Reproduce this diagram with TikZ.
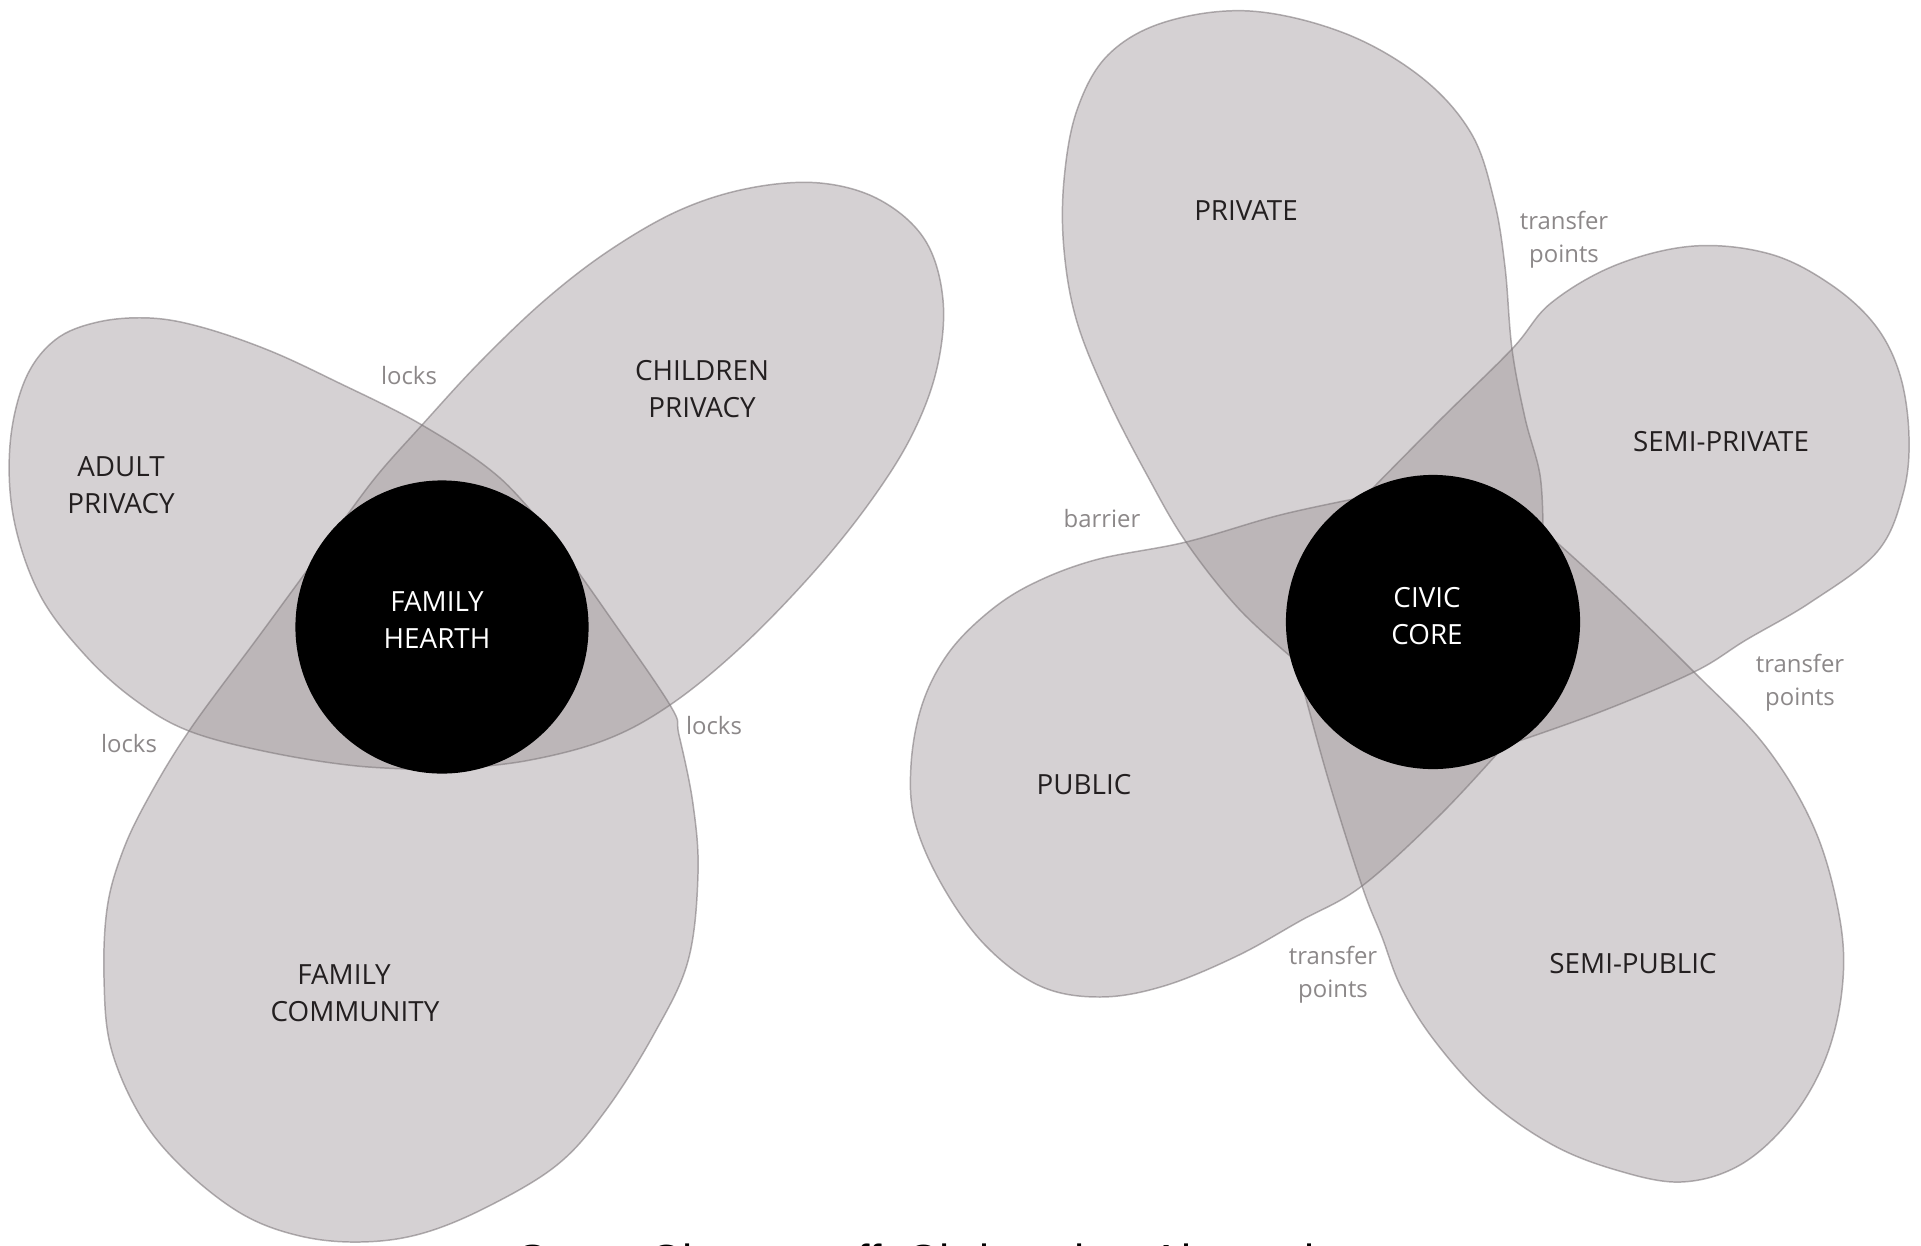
\documentclass[tikz,border=0pt]{standalone}
\usepackage{fontspec}
\setmainfont{Open Sans}
\newfontfamily\capfont{Liberation Sans}

\definecolor{petal}{RGB}{152,142,145}
\definecolor{rimc}{RGB}{128,122,125}
\definecolor{ink}{RGB}{35,31,32}
\definecolor{note}{RGB}{140,136,137}

\tikzset{
  zone/.style={fill=petal, fill opacity=0.4},
  rim/.style={draw=rimc, draw opacity=0.6, line width=0.42pt, line join=round},
  core/.style={fill=black},
  zonelabel/.style={font={\fontsize{7.9}{10.5}\selectfont}, text=ink, align=center, inner sep=0pt},
  notelabel/.style={font={\fontsize{6.8}{9.4}\selectfont}, text=note, align=center, inner sep=0pt},
}

\begin{document}
\begin{tikzpicture}[x=0.01cm, y=-0.01cm]
\clip (0,0) rectangle (1921,1245);
\fill[white] (0,0) rectangle (1921,1245);

% ---------- family diagram: key points ----------
\coordinate (hc)  at (442,627);   % hearth centre
\coordinate (lkT) at (422,425);   % upper lock
\coordinate (lkL) at (189,731);   % left lock
\coordinate (lkR) at (670,705);   % right lock
\coordinate (tL)  at (333,535);   % petal edges meeting the hearth
\coordinate (tR)  at (559,545);
\coordinate (tB)  at (442,770);

% ---------- civic diagram: key points ----------
\coordinate (cc)  at (1433,622);  % core centre
\coordinate (xB)  at (1186,542);  % barrier
\coordinate (xT)  at (1512,349);  % transfer points, top
\coordinate (xR)  at (1694,672);  % transfer points, right
\coordinate (xD)  at (1362,886);  % transfer points, bottom
\coordinate (tTL) at (1364,497);
\coordinate (tTR) at (1543,530);
\coordinate (tBR) at (1504,746);
\coordinate (tBL) at (1296,661);

% ---------- petal outlines ----------
\def\adultpath{plot[smooth, tension=0.6] coordinates {(tR) (500,478) (lkT) (335,381) (268,350) (201,327) (150,318) (98,322) (55,340) (25,380) (10,445) (14,520) (40,595) (85,655) (135,700) (lkL) (268,752) (357,766) (tB)} -- (hc) -- cycle}
\def\childpath{plot[smooth, tension=0.6] coordinates {(tB) (525,761) (605,740) (lkR) (740,648) (812,574) (870,502) (912,435) (937,368) (943,300) (925,240) (880,200) (820,183) (750,188) (680,210) (610,250) (545,300) (480,362) (lkT) (375,478) (tL)} -- (hc) -- cycle}
\def\commpath{plot[smooth, tension=0.6] coordinates {(tL) (262,632) (lkL) (145,804) (121,856) (107,909) (104,978) (111,1048) (141,1117) (184,1169) (242,1214) (300,1236) (360,1242) (420,1234) (485,1208) (557,1165) (606,1110) (654,1034) (688,961) (698,874) (693,804) (679,735) (lkR) (605,610) (tR)} -- (hc) -- cycle}
\def\privpath{plot[smooth, tension=0.6] coordinates {(tTR) (1540,475) (1525,418) (xT) (1505,267) (1494,200) (1471,133) (1421,77) (1344,33) (1250,11) (1165,22) (1108,55) (1077,110) (1064,180) (1064,250) (1077,322) (1108,399) (1147,475) (xB) (1239,609) (tBL)} -- (cc) -- cycle}
\def\semiprivpath{plot[smooth, tension=0.6] coordinates {(tBR) (1600,712) (xR) (1746,640) (1811,602) (1877,552) (1903,494) (1909,437) (1900,375) (1875,325) (1830,284) (1770,254) (1694,246) (1616,265) (1551,303) (xT) (1440,420) (tTL)} -- (cc) -- cycle}
\def\semipubpath{plot[smooth, tension=0.6] coordinates {(tBL) (1327,775) (xD) (1382,937) (1401,987) (1434,1040) (1486,1098) (1551,1144) (1616,1170) (1681,1182) (1740,1165) (1790,1120) (1825,1060) (1842,990) (1840,920) (1815,830) (1766,747) (xR) (1620,600) (tTR)} -- (cc) -- cycle}
\def\pubpath{plot[smooth, tension=0.6] coordinates {(tBR) (1440,815) (xD) (1300,921) (1237,956) (1164,986) (1100,997) (1040,986) (985,945) (942,885) (915,822) (911,765) (922,705) (947,655) (985,615) (1030,585) (1095,560) (xB) (1280,515) (tTL)} -- (cc) -- cycle}

% translucent fills (overlaps darken)
\fill[zone] \adultpath;
\fill[zone] \childpath;
\fill[zone] \commpath;
\fill[zone] \privpath;
\fill[zone] \semiprivpath;
\fill[zone] \semipubpath;
\fill[zone] \pubpath;

% thin outlines
\draw[rim] \adultpath;
\draw[rim] \childpath;
\draw[rim] \commpath;
\draw[rim] \privpath;
\draw[rim] \semiprivpath;
\draw[rim] \semipubpath;
\draw[rim] \pubpath;

% black cores
\fill[core] (hc) circle[radius=1.465cm];
\fill[core] (cc) circle[radius=1.47cm];

% ---------- family labels ----------
\node[zonelabel] (adult) at (121,485) {ADULT\\PRIVACY};
\node[zonelabel] (children) at (702,389) {CHILDREN\\PRIVACY};
\node[zonelabel, text=white] (hearth) at (437,620) {FAMILY\\HEARTH};
\node[zonelabel] (community) at (355,993) {FAMILY\hspace*{0.22cm}\\COMMUNITY};
\node[notelabel] (lockT) at (409,376) {locks};
\node[notelabel] (lockL) at (129,744) {locks};
\node[notelabel] (lockR) at (714,726) {locks};

% ---------- civic labels ----------
\node[zonelabel] (private) at (1246,211) {PRIVATE};
\node[zonelabel] (semiprivate) at (1721,442) {SEMI-PRIVATE};
\node[zonelabel, text=white] (civic) at (1427,616) {CIVIC\\CORE};
\node[zonelabel] (public) at (1084,785) {PUBLIC};
\node[zonelabel] (semipublic) at (1633,964) {SEMI-PUBLIC};
\node[notelabel] (trT) at (1564,240) {transfer\\points};
\node[notelabel] (trR) at (1800,683) {transfer\\points};
\node[notelabel] (trD) at (1333,975) {transfer\\points};
\node[notelabel] (barrier) at (1102,519) {barrier};

% ---------- credit line ----------
\node[anchor=base, inner sep=0pt, font={\capfont\fontsize{12.8}{15}\selectfont}] (credit) at (936,1276) {Serge Chermayeff, Christopher Alexander};
\end{tikzpicture}
\end{document}
